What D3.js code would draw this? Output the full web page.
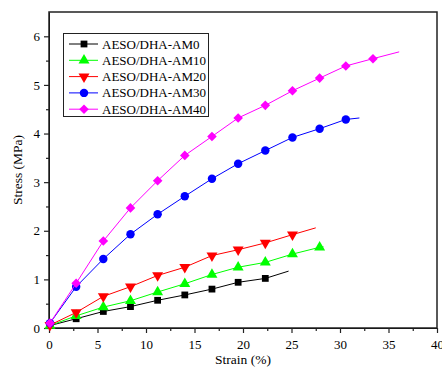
<!DOCTYPE html>
<html>
<head>
<meta charset="utf-8">
<script src="https://cdn.jsdelivr.net/npm/d3@7"></script>
<style>
  body { margin: 0; background: #fff; }
</style>
</head>
<body>
<svg id="chart" width="442" height="368"></svg>
<script>
// marker strain positions (%), shared by all curves
const markerStrain = [0.1, 2.8, 5.6, 8.4, 11.2, 14, 16.8, 19.5, 22.3, 25.1, 27.9, 30.6, 33.4];

// stress (MPa) at each marker, and where each curve ends
const am0 = [0.05, 0.19, 0.34, 0.44, 0.57, 0.68, 0.80, 0.94, 1.02];
const am10 = [0.05, 0.25, 0.43, 0.56, 0.74, 0.91, 1.10, 1.25, 1.35, 1.52, 1.66];
const am20 = [0.06, 0.32, 0.65, 0.85, 1.08, 1.25, 1.49, 1.61, 1.75, 1.92];
const am30 = [0.10, 0.85, 1.42, 1.93, 2.34, 2.71, 3.07, 3.38, 3.65, 3.92, 4.10, 4.29];
const am40 = [0.10, 0.92, 1.79, 2.47, 3.03, 3.55, 3.94, 4.32, 4.58, 4.88, 5.14, 5.39, 5.54];
const ends = [[24.7, 1.17], [28.3, 1.67], [27.5, 2.06], [32.0, 4.32], [36.1, 5.68]];

const names = ["AESO/DHA-AM0", "AESO/DHA-AM10", "AESO/DHA-AM20", "AESO/DHA-AM30", "AESO/DHA-AM40"];
const colors = ["#000000", "#00ff00", "#ff0000", "#0000ff", "#ff00ff"];
const symbols = [d3.symbolSquare, d3.symbolTriangle, "down", d3.symbolCircle, "diamond"];

const xTicks = [0, 5, 10, 15, 20, 25, 30, 35, 40];
const yTicks = [0, 1, 2, 3, 4, 5, 6];

const FONT = "'Liberation Serif', 'Times New Roman', serif";
const svg = d3.select("#chart");
const m = { left: 49, right: 437, top: 12, bottom: 328 };

const x = d3.scaleLinear().domain([0, 40]).range([m.left, m.right]);
const y = d3.scaleLinear().domain([0, 6.5]).range([m.bottom, m.top]);

// minor ticks
svg.append("g")
  .attr("transform", `translate(0,${m.bottom})`)
  .call(d3.axisBottom(x).tickValues(d3.range(2.5, 40, 5)).tickSize(3).tickFormat(""))
  .call(g => g.select(".domain").remove());
svg.append("g")
  .attr("transform", `translate(${m.left},0)`)
  .call(d3.axisLeft(y).tickValues(d3.range(0.5, 6.5, 1)).tickSize(3).tickFormat(""))
  .call(g => g.select(".domain").remove());

const xAxis = svg.append("g")
  .attr("transform", `translate(0,${m.bottom})`)
  .call(d3.axisBottom(x).tickValues(xTicks).tickFormat(d3.format("d"))
    .tickSize(5).tickSizeOuter(0).tickPadding(4));
const yAxis = svg.append("g")
  .attr("transform", `translate(${m.left},0)`)
  .call(d3.axisLeft(y).tickValues(yTicks).tickFormat(d3.format("d"))
    .tickSize(5).tickSizeOuter(0).tickPadding(4));

[xAxis, yAxis].forEach(g => {
  g.attr("font-family", null).attr("font-size", null);
  g.selectAll("text")
    .style("font-family", FONT).style("font-size", "13px").attr("fill", "#000");
});
xAxis.selectAll("text").attr("dy", "0.9em");
svg.selectAll(".tick line").attr("stroke", "#222").attr("stroke-width", 1.2);

// frame
svg.append("rect")
  .attr("x", m.left).attr("y", m.top)
  .attr("width", m.right - m.left).attr("height", m.bottom - m.top)
  .attr("fill", "none").attr("stroke", "#222").attr("stroke-width", 1.5);

const symbolPath = (s, size) => {
  if (s === "down") return d3.symbol(d3.symbolTriangle, size)();
  if (s === "diamond") return d3.symbol(d3.symbolSquare, size)();
  return d3.symbol(s, size)();
};
const symbolRotate = s => s === "down" ? 180 : s === "diamond" ? 45 : 0;
const symbolSize = [46, 52, 52, 56, 46];

const seriesVals = [am0, am10, am20, am30, am40];
const line = d3.line().x(d => x(d[0])).y(d => y(d[1]));

seriesVals.forEach((vals, i) => {
  const pts = vals.map((v, j) => [markerStrain[j], v]);
  svg.append("path")
    .datum([[0, 0.02]].concat(pts, [ends[i]]))
    .attr("fill", "none")
    .attr("stroke", colors[i])
    .attr("stroke-width", 1)
    .attr("d", line);
  svg.append("g").selectAll("path")
    .data(pts)
    .join("path")
    .attr("transform", d => `translate(${x(d[0])},${y(d[1])}) rotate(${symbolRotate(symbols[i])})`)
    .attr("d", symbolPath(symbols[i], symbolSize[i]))
    .attr("fill", colors[i]);
});

// legend
const leg = svg.append("g");
leg.append("rect")
  .attr("x", 63.5).attr("y", 33.5).attr("width", 145).attr("height", 83)
  .attr("fill", "#fff").attr("stroke", "#222").attr("stroke-width", 1);
names.forEach((n, i) => {
  const ly = 44 + i * 16.3;
  leg.append("line").attr("x1", 69).attr("x2", 98).attr("y1", ly).attr("y2", ly)
    .attr("stroke", colors[i]).attr("stroke-width", 1);
  leg.append("path")
    .attr("transform", `translate(84,${ly}) rotate(${symbolRotate(symbols[i])})`)
    .attr("d", symbolPath(symbols[i], symbolSize[i]))
    .attr("fill", colors[i]);
  leg.append("text").attr("x", 102).attr("y", ly + 4.5)
    .style("font-family", FONT).style("font-size", "13px")
    .attr("fill", "#000").text(n);
});

// axis titles
svg.append("text")
  .attr("x", (m.left + m.right) / 2).attr("y", 364)
  .attr("text-anchor", "middle")
  .style("font-family", FONT).style("font-size", "13.5px")
  .text("Strain (%)");
svg.append("text")
  .attr("transform", `translate(22,${(m.top + m.bottom) / 2}) rotate(-90)`)
  .attr("text-anchor", "middle")
  .style("font-family", FONT).style("font-size", "13.5px")
  .text("Stress (MPa)");
</script>
</body>
</html>
